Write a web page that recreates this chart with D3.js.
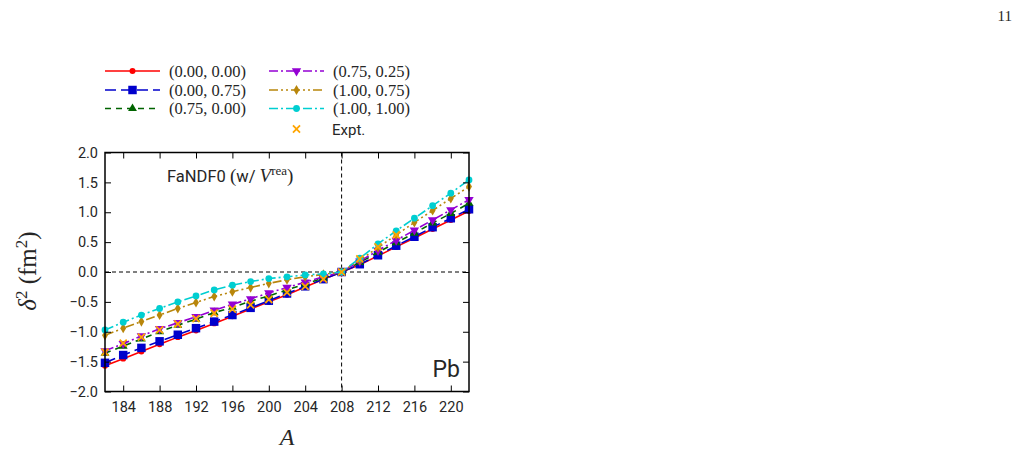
<!DOCTYPE html>
<html>
<head>
<meta charset="utf-8">
<script src="https://cdn.jsdelivr.net/npm/d3@7"></script>
<style>
  body { margin: 0; background: #fff; }
  text { fill: #262626; }
</style>
</head>
<body>
<div id="chart-area"></div>
<script>
// Data
// ****
const massNumbers = [182, 184, 186, 188, 190, 192, 194, 196, 198, 200, 202, 204, 206, 208, 210, 212, 214, 216, 218, 220, 222]
const seriesNames = ["(0.00, 0.00)", "(0.00, 0.75)", "(0.75, 0.00)", "(0.75, 0.25)", "(1.00, 0.75)", "(1.00, 1.00)"]
const red00 = [-1.57, -1.45, -1.33, -1.21, -1.09, -0.98, -0.86, -0.74, -0.62, -0.50, -0.38, -0.25, -0.12, 0, 0.12, 0.27, 0.42, 0.57, 0.72, 0.87, 1.02]
const blue075 = [-1.52, -1.39, -1.27, -1.16, -1.05, -0.94, -0.83, -0.72, -0.60, -0.48, -0.36, -0.24, -0.12, 0, 0.13, 0.28, 0.44, 0.59, 0.75, 0.90, 1.05]
const green7500 = [-1.36, -1.24, -1.12, -1.00, -0.89, -0.79, -0.68, -0.59, -0.49, -0.40, -0.30, -0.20, -0.10, 0, 0.16, 0.33, 0.49, 0.65, 0.82, 0.98, 1.15]
const purple7525 = [-1.32, -1.20, -1.07, -0.95, -0.85, -0.75, -0.64, -0.54, -0.45, -0.35, -0.26, -0.17, -0.08, 0, 0.18, 0.36, 0.53, 0.70, 0.87, 1.04, 1.21]
const gold10075 = [-1.06, -0.94, -0.83, -0.72, -0.61, -0.51, -0.41, -0.33, -0.26, -0.19, -0.13, -0.08, -0.04, 0, 0.20, 0.41, 0.62, 0.83, 1.03, 1.23, 1.43]
const cyan100 = [-0.97, -0.84, -0.72, -0.61, -0.50, -0.40, -0.30, -0.22, -0.16, -0.11, -0.08, -0.05, -0.03, 0, 0.23, 0.47, 0.69, 0.90, 1.11, 1.32, 1.54]
const exptA = [182, 184, 186, 188, 190, 192, 194, 196, 198, 200, 202, 204, 206, 208, 210, 212, 214]
const exptValues = [-1.34, -1.19, -1.09, -0.97, -0.87, -0.78, -0.69, -0.62, -0.55, -0.46, -0.34, -0.24, -0.12, 0, 0.22, 0.42, 0.62]
const xTicks = [184, 188, 192, 196, 200, 204, 208, 212, 216, 220]
const yTicks = [-2.0, -1.5, -1.0, -0.5, 0.0, 0.5, 1.0, 1.5, 2.0]

// Config
// ******
const margin = {top: 152.5, left: 105}
const width = 364, height = 239

const svg = d3.select("#chart-area")
	.append("svg")
		.attr("width", 1016)
		.attr("height", 452)
const g = svg.append("g")
	.attr("transform", "translate(" + margin.left + ", " + margin.top + ")")

const x_scale = d3.scaleLinear().domain([182, 222]).range([0, width])
const y_scale = d3.scaleLinear().domain([-2, 2]).range([height, 0])

const styles = [
	{color: "#ff0000", dash: null, symbol: d3.symbolCircle, size: 28, rot: 0},
	{color: "#0000cc", dash: "11,5", symbol: d3.symbolSquare, size: 72, rot: 0},
	{color: "#006400", dash: "6,5", symbol: d3.symbolTriangle, size: 34, rot: 0},
	{color: "#9400d3", dash: "9,3,2,3", symbol: d3.symbolTriangle, size: 38, rot: 180},
	{color: "#b8860b", dash: "9,3,2,3,2,3", symbol: d3.symbolDiamond, size: 30, rot: 0},
	{color: "#00ced1", dash: "9,3,2,3", symbol: d3.symbolCircle, size: 36, rot: 0}
]
const allSeries = [red00, blue075, green7500, purple7525, gold10075, cyan100]

// Reference lines
g.append("line")
	.attr("x1", x_scale(208)).attr("x2", x_scale(208))
	.attr("y1", 0).attr("y2", height)
	.attr("stroke", "#000").attr("stroke-width", 1).attr("stroke-dasharray", "4,3")
g.append("line")
	.attr("x1", 0).attr("x2", width)
	.attr("y1", y_scale(0)).attr("y2", y_scale(0))
	.attr("stroke", "#000").attr("stroke-width", 1).attr("stroke-dasharray", "4,3")

// Series
const plot = g.append("g")
const line = d3.line().x(d => x_scale(d[0])).y(d => y_scale(d[1]))
allSeries.forEach((values, i) => {
	const s = styles[i]
	const pts = massNumbers.map((a, j) => [a, values[j]])
	plot.append("path")
		.attr("d", line(pts))
		.attr("fill", "none")
		.attr("stroke", s.color)
		.attr("stroke-width", 1.6)
		.attr("stroke-dasharray", s.dash)
	plot.selectAll(null).data(pts).enter().append("path")
		.attr("d", d3.symbol(s.symbol, s.size))
		.attr("transform", d => "translate(" + x_scale(d[0]) + "," + y_scale(d[1]) + ") rotate(" + s.rot + ")")
		.attr("fill", s.color)
})
plot.selectAll(null).data(exptA.map((a, j) => [a, exptValues[j]])).enter().append("path")
	.attr("d", d3.symbol(d3.symbolTimes, 34))
	.attr("transform", d => "translate(" + x_scale(d[0]) + "," + y_scale(d[1]) + ")")
	.attr("fill", "none")
	.attr("stroke", "#ffa500")
	.attr("stroke-width", 1.8)

// Axes
const tickFont = "Roboto, 'DejaVu Sans', sans-serif"
const x_axis = g.append("g").attr("transform", "translate(0, " + height + ")")
	.call(d3.axisBottom(x_scale).tickValues(xTicks).tickSizeInner(-6).tickSizeOuter(0).tickPadding(10))
const x_top = g.append("g")
	.call(d3.axisTop(x_scale).tickValues(xTicks).tickSizeInner(-6).tickSizeOuter(0).tickFormat(""))
const y_axis = g.append("g")
	.call(d3.axisLeft(y_scale).tickValues(yTicks).tickSizeInner(-6).tickSizeOuter(0).tickPadding(7).tickFormat(d3.format(".1f")))
const y_right = g.append("g").attr("transform", "translate(" + width + ", 0)")
	.call(d3.axisRight(y_scale).tickValues(yTicks).tickSizeInner(-6).tickSizeOuter(0).tickFormat(""))
g.selectAll(".domain").remove()
g.selectAll(".tick line").attr("stroke", "#000").attr("stroke-width", 1)
g.selectAll(".tick text").style("font-family", tickFont).style("font-size", "14.5px").attr("fill", "#262626")

g.append("rect")
	.attr("width", width).attr("height", height)
	.attr("fill", "none").attr("stroke", "#000").attr("stroke-width", 1.5)

// Labels
const note = g.append("text")
	.attr("x", 62).attr("y", 29)
	.style("font-family", tickFont).style("font-size", "16.5px")
note.append("tspan").text("FaNDF0 ")
note.append("tspan").style("font-family", "'Liberation Serif', serif").style("font-size", "19px").text("(")
note.append("tspan").text("w/ ")
note.append("tspan").style("font-family", "'Liberation Serif', serif").style("font-style", "italic").style("font-size", "19px").text("V")
note.append("tspan").attr("dy", -7).style("font-family", "'Liberation Serif', serif").style("font-size", "13px").text("rea")
note.append("tspan").attr("dy", 7).style("font-family", "'Liberation Serif', serif").style("font-size", "19px").text(")")

g.append("text")
	.attr("x", width - 9).attr("y", 224)
	.attr("text-anchor", "end")
	.style("font-family", tickFont).style("font-size", "23px")
	.text("Pb")

const y_label = svg.append("text")
	.attr("transform", "translate(36, 271) rotate(-90)")
	.attr("text-anchor", "middle")
	.style("font-family", "'Liberation Serif', serif").style("font-size", "25px")
y_label.append("tspan").style("font-style", "italic").text("δ")
y_label.append("tspan").attr("dy", -9).style("font-size", "17px").text("2")
y_label.append("tspan").attr("dy", 9).text(" (fm")
y_label.append("tspan").attr("dy", -9).style("font-size", "17px").text("2")
y_label.append("tspan").attr("dy", 9).text(")")

svg.append("text")
	.attr("x", 287).attr("y", 445)
	.attr("text-anchor", "middle")
	.style("font-family", "'Liberation Serif', serif").style("font-size", "24px").style("font-style", "italic")
	.text("A")

svg.append("text")
	.attr("x", 1012).attr("y", 21)
	.attr("text-anchor", "end")
	.style("font-family", "'Liberation Serif', serif").style("font-size", "15px")
	.text("11")

// Legend
// ******
const legend = svg.append("g")
const legendPos = [[105, 71], [105, 90], [105, 108.5], [269, 71], [269, 90], [269, 108.5]]
seriesNames.forEach((name, i) => {
	const s = styles[i]
	const row = legend.append("g").attr("transform", "translate(" + legendPos[i][0] + "," + legendPos[i][1] + ")")
	row.append("line")
		.attr("x1", 0).attr("x2", 55).attr("y1", 0).attr("y2", 0)
		.attr("stroke", s.color).attr("stroke-width", 1.6).attr("stroke-dasharray", s.dash)
	row.append("path")
		.attr("d", d3.symbol(s.symbol, s.size))
		.attr("transform", "translate(27.5, 0) rotate(" + s.rot + ")")
		.attr("fill", s.color)
	row.append("text")
		.attr("x", 64).attr("y", 5.5)
		.style("font-family", "'Liberation Serif', serif").style("font-size", "16.5px")
		.text(name)
})
const exptRow = legend.append("g").attr("transform", "translate(269, 129)")
exptRow.append("path")
	.attr("d", d3.symbol(d3.symbolTimes, 34))
	.attr("transform", "translate(27.5, 0)")
	.attr("fill", "none").attr("stroke", "#ffa500").attr("stroke-width", 1.8)
exptRow.append("text")
	.attr("x", 63).attr("y", 5.5)
	.style("font-family", tickFont).style("font-size", "15px")
	.text("Expt.")
</script>
</body>
</html>
